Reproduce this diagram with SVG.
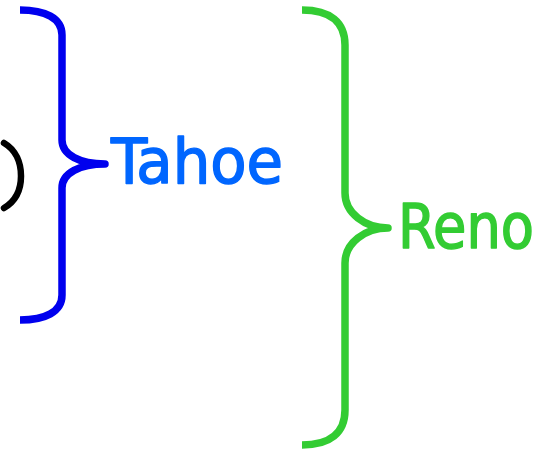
<svg xmlns="http://www.w3.org/2000/svg" width="543" height="451" viewBox="0 0 543 451">
  <style>
    .brace { fill: none; stroke-width: 7.5; stroke-linejoin: round; stroke-linecap: butt; }
    .label { font-family: "DejaVu Sans Condensed", "DejaVu Sans", "Liberation Sans", sans-serif; font-size: 62px; stroke-width: 1.4; stroke-linejoin: round; }
  </style>
  <rect width="543" height="451" fill="#ffffff"/>

  <!-- closing parenthesis at the left edge -->
  <g id="paren">
    <path d="M4,143 C16,150 21,163 21,176 C21,189 16,201 4,208" fill="none" stroke="#000000" stroke-width="6.5" stroke-linecap="round"/>
  </g>

  <g id="connectors">
    <!-- inner brace -->
    <path class="brace" stroke="#0000ee" d="M20,10 C45,10 62,18 62,35 L62,140 C62,155 80,164 105,164 C80,164 62,173 62,188 L62,295 C62,312 45,320 20,320"/>
    <!-- outer brace -->
    <path class="brace" stroke="#33cc33" d="M302,10 C330,10 345,22 345,45 L345,193 C345,213 365,228 388,228 C365,228 345,243 345,263 L345,410 C345,433 330,445 302,445"/>
  </g>

  <g id="tahoe">
    <text class="label" x="111" y="183" fill="#0066ff" stroke="#0066ff" textLength="172" lengthAdjust="spacingAndGlyphs">Tahoe</text>
  </g>

  <g id="reno">
    <text class="label" x="398" y="248" fill="#33cc33" stroke="#33cc33" textLength="136" lengthAdjust="spacingAndGlyphs">Reno</text>
  </g>
</svg>
